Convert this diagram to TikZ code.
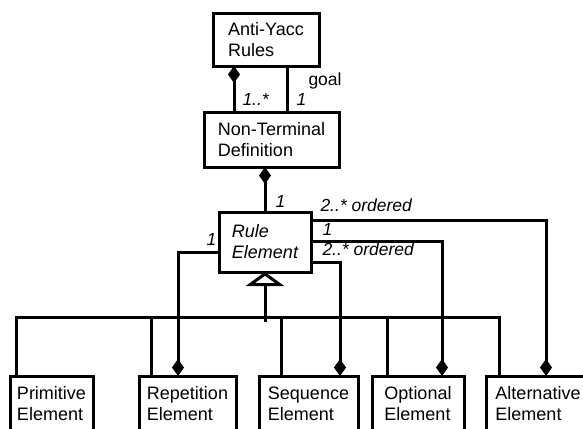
\documentclass[tikz,border=0pt]{standalone}
\usepackage{fontspec}
\setmainfont{Liberation Sans}
\usetikzlibrary{arrows.meta}
\begin{document}
\begin{tikzpicture}[x=1pt,y=-1pt,
  line width=3pt,
  cls/.style={draw,anchor=north west,align=left,outer sep=0pt,inner sep=0pt,
    minimum height=55pt,font=\fontsize{18}{21}\selectfont},
  mult/.style={anchor=base west,inner sep=0pt,font=\fontsize{17.5}{21}\selectfont\itshape},
  comp/.style={-{Diamond[length=17pt,width=12pt]}},
  gen/.style={-{Triangle[open,length=14pt,width=38pt]}}]
  \useasboundingbox (0,0) rectangle (583,428);
  \clip (0,0) rectangle (583,428);
  \node[cls,minimum width=106pt,minimum height=52pt] (ayr) at (213,14) {Anti-Yacc\\Rules};
  \node[cls,minimum width=135pt] (ntd) at (204,112) {Non-Terminal\\Definition};
  \node[cls,minimum width=92pt,minimum height=60pt,font=\fontsize{18}{21}\selectfont\itshape] (rule) at (219,212) {Rule\\Element};
  \node[cls,minimum width=83pt] (prim) at (10,376) {Primitive\\Element};
  \node[cls,minimum width=97pt] (rep) at (139,376) {Repetition\\Element};
  \node[cls,minimum width=99pt] (seq) at (259,376) {Sequence\\Element};
  \node[cls,minimum width=92pt] (opt) at (372,376) {Optional\\Element};
  \node[cls,minimum width=104pt] (alt) at (486,376) {Alternative\\Element};
  \draw[comp] ([xshift=-37.5pt]ntd.north) -- ([xshift=-32pt]ayr.south);
  \draw ([xshift=21pt]ayr.south) -- ([xshift=15.5pt]ntd.north);
  \draw[comp] (rule.north) -- ([xshift=-6.5pt]ntd.south);
  \coordinate (bus) at (265,317);
  \coordinate (stub) at (265,322);
  \draw[gen] (stub) -- (rule.south);
  \draw ([xshift=6pt]prim.north west) |- (bus) -| ([xshift=13pt]alt.north west);
  \foreach \n/\d in {rep/12,seq/22,opt/15}
    \draw ([xshift=\d pt]\n.north west) |- (bus);
  \draw[comp] ([yshift=-10pt]rule.west) -| ([xshift=39pt]rep.north west);
  \draw[comp] ([yshift=22pt]rule.east) -| ([xshift=60pt]alt.north west);
  \draw[comp] ([yshift=1pt]rule.east) -| ([xshift=70pt]opt.north west);
  \draw[comp] ([yshift=-20pt]rule.east) -| ([xshift=81pt]seq.north west);
  \path (307,85) node[anchor=base west,inner sep=0pt,font=\fontsize{17.5}{21}\selectfont] (goal) {goal};
  \path (241,105) node[mult] (m1) {1..*};
  \path (295,105) node[mult] (m2) {1};
  \path (274,207) node[mult] (m3) {1};
  \path (319,211) node[mult] (m4) {2..* ordered};
  \path (321,235) node[mult] (m5) {1};
  \path (321,255) node[mult] (m6) {2..* ordered};
  \path (205,245) node[mult] (m7) {1};
\end{tikzpicture}
\end{document}
